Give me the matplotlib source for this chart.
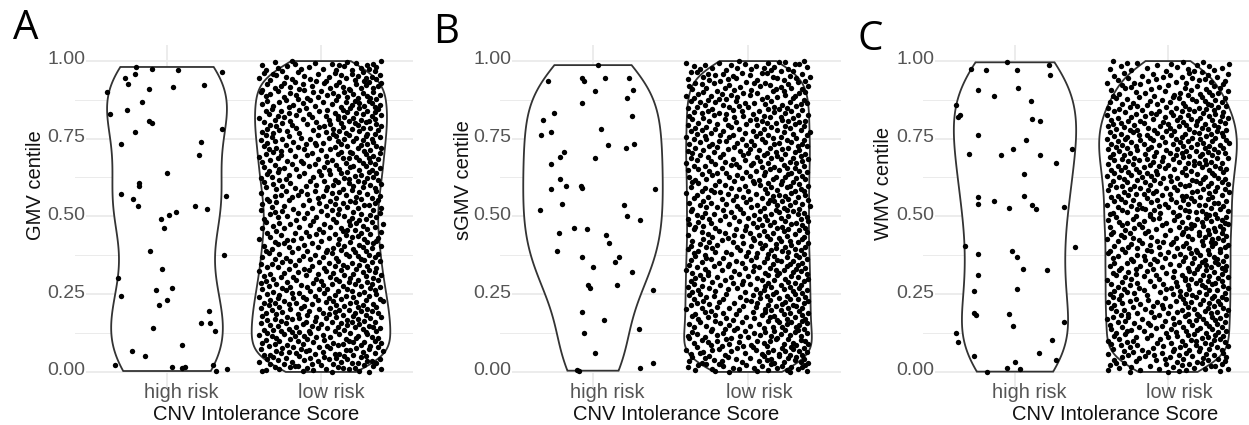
import numpy as np
import matplotlib
matplotlib.use("Agg")
import matplotlib.pyplot as plt
from matplotlib.transforms import ScaledTranslation

plt.rcParams['font.family'] = ['Liberation Sans', 'DejaVu Sans']

W, H, DPI = 1249, 425, 100

categories = ["high risk", "low risk"]
panel_letters = ["A", "B", "C"]
y_titles = ["GMV centile", "sGMV centile", "WMV centile"]
x_title = "CNV Intolerance Score"
y_ticks = [0.0, 0.25, 0.5, 0.75, 1.0]
y_tick_labels = ["0.00", "0.25", "0.50", "0.75", "1.00"]

# ---- high-risk carriers: centile and horizontal jitter (category units) ----
a_high_y = [0.980, 0.974, 0.969, 0.965, 0.958, 0.943, 0.926, 0.923, 0.917, 0.909,
            0.901, 0.867, 0.843, 0.830, 0.806, 0.800, 0.782, 0.772, 0.739, 0.732,
            0.698, 0.639, 0.607, 0.599, 0.572, 0.564, 0.556, 0.534, 0.532, 0.523,
            0.513, 0.503, 0.490, 0.464, 0.390, 0.376, 0.331, 0.302, 0.269, 0.264,
            0.244, 0.232, 0.214, 0.196, 0.158, 0.156, 0.140, 0.133, 0.087, 0.066,
            0.051, 0.022, 0.022, 0.017, 0.015, 0.012, 0.010, 0.003]
a_high_jit = [-0.20, -0.10, 0.07, 0.36, -0.21, -0.27, -0.25, 0.24, 0.04, -0.12,
              -0.39, -0.16, -0.26, -0.37, -0.12, -0.10, 0.36, -0.21, 0.22, -0.30,
              0.21, 0.00, -0.18, -0.18, -0.30, 0.38, -0.22, -0.19, 0.18, 0.26,
              0.06, 0.01, -0.04, -0.02, -0.11, 0.37, -0.03, -0.32, 0.03, -0.07,
              -0.30, 0.00, -0.05, 0.27, 0.22, 0.28, -0.09, 0.31, 0.10, -0.23,
              -0.14, -0.34, 0.30, 0.03, 0.12, 0.10, 0.39, 0.32]

b_high_y = [0.986, 0.946, 0.945, 0.943, 0.936, 0.934, 0.907, 0.904, 0.880, 0.865,
            0.832, 0.824, 0.810, 0.781, 0.772, 0.760, 0.731, 0.730, 0.720, 0.708,
            0.690, 0.688, 0.667, 0.621, 0.599, 0.597, 0.592, 0.588, 0.588, 0.541,
            0.538, 0.521, 0.500, 0.489, 0.462, 0.459, 0.446, 0.439, 0.414, 0.390,
            0.370, 0.368, 0.353, 0.338, 0.322, 0.279, 0.279, 0.271, 0.263, 0.193,
            0.167, 0.137, 0.124, 0.062, 0.028, 0.012, 0.006, 0.004]
b_high_jit = [0.03, 0.23, -0.07, 0.08, -0.06, -0.29, 0.26, 0.01, 0.22, -0.07,
              -0.25, 0.25, -0.32, 0.05, -0.27, -0.335, 0.265, 0.095, 0.21, -0.185,
              -0.21, 0.01, -0.27, -0.21, -0.175, -0.08, -0.07, -0.27, 0.40, -0.20,
              0.20, -0.34, 0.22, 0.30, -0.12, -0.04, -0.22, 0.085, 0.105, -0.235,
              -0.07, 0.17, 0.14, 0.00, 0.25, 0.155, -0.03, -0.02, 0.385, -0.07,
              0.07, 0.295, -0.06, 0.01, 0.385, 0.30, -0.105, -0.09]

c_high_y = [0.995, 0.987, 0.973, 0.971, 0.971, 0.955, 0.914, 0.906, 0.887, 0.870,
            0.859, 0.827, 0.820, 0.814, 0.805, 0.760, 0.744, 0.717, 0.717, 0.701,
            0.698, 0.696, 0.672, 0.635, 0.567, 0.562, 0.550, 0.541, 0.538, 0.530,
            0.528, 0.525, 0.404, 0.402, 0.389, 0.380, 0.370, 0.332, 0.329, 0.311,
            0.266, 0.261, 0.188, 0.185, 0.183, 0.161, 0.147, 0.126, 0.103, 0.097,
            0.060, 0.051, 0.038, 0.033, 0.012, 0.009, 0.001]
c_high_jit = [-0.055, 0.22, -0.29, -0.19, 0.01, 0.23, 0.02, -0.245, -0.14, 0.105,
              -0.385, -0.36, -0.37, 0.11, 0.165, -0.245, 0.07, -0.015, 0.37, -0.30,
              -0.09, 0.165, 0.27, 0.06, 0.06, -0.24, -0.14, -0.24, 0.11, 0.32,
              -0.04, 0.14, -0.33, 0.39, -0.02, -0.24, 0.01, 0.05, 0.21, -0.245,
              0.01, -0.27, -0.27, -0.04, -0.255, 0.32, -0.01, -0.385, 0.245, -0.37,
              0.16, -0.27, 0.27, 0.00, -0.05, 0.03, -0.185]

# ---- low-risk group: horizontal jitter in hundredths of a category ----
low_jitter = [
    7, 31, -12, 25, -38, -36, -5, 18, 3, -27, 39, 14, 22, -9, -30, 11, -20, 34, -15, -17, 28, 0, -33, 8, -24,
    -6, 36, 20, 24, -40, 13, -19, -2, 30, 33, -11, -28, 5, -35, 17, 38, 10, -23, -7, 26, -31, 2, 15, -14, 29,
    21, -37, -33, 9, 12, -4, 35, -26, -16, -21, 1, 27, -10, 40, -29, 16, 19, -8, 31, -39, -13, 6, -25, 23, 37,
    -18, -1, 32, -34, 4, 11, -22, 26, -30, 14, -12, -38, 39, 8, 21, -5, 28, -27, -15, 35, 18, -36, 2, -9, -20,
    16, 23, -29, 37, -3, 6, 33, -17, -32, 24, -11, 1, -40, -24, 30, 12, -7, 19, -35, 29, -14, -19, 9, 36, -26,
    -8, 15, -37, -31, 27, -21, 4, 38, -2, 11, 34, -16, 22, -28, -6, 31, -33, 17, 0, -12, 25, -39, -23, 13, 20,
    35, -10, 7, 28, -26, -4, 17, -35, 24, -19, -30, 3, -14, 32, 39, -22, 10, -3, -38, 21, -9, 14, 29, -29, 5,
    -15, -36, 22, 1, 37, -25, 9, 26, 33, -8, 12, -32, 18, -20, -1, 30, -39, 6, -13, 24, 36, -27, -11, 15, -34,
    27, 10, -21, -6, 34, -30, 19, -16, -37, 3, 23, 40, -24, 8, -2, -33, 29, 13, -10, 38, -18, -28, 5, 21, -40,
    -12, 31, 16, -4, -27, 9, -35, 25, 36, 2, -19, -14, 28, -31, 11, 20, -7, 35, -23, -38, 17, 4, -1, 32, -25,
    38, -20, -9, 14, 26, -34, 1, -13, 22, 33, -29, 7, -39, -5, 18, 30, -22, 12, 0, -36, 24, 37, -16, -31, 10,
    -3, 19, 34, -26, -18, 6, 29, -37, 15, -10, 39, 21, -33, -2, 8, -24, 35, 27, -15, 3, -40, 13, 31, -8, -21,
    23, -11, 2, 36, -28, -35, 17, 9, -6, 30, -17, 25, 14, -32, -39, 20, 5, -25, 33, -1, 11, 38, -20, -14, 28,
    -30, 26, -7, 10, -23, 35, 1, -38, 18, 24, -12, -4, 31, -27, 16, 37, -34, 7, -19, 22, 3, -9, -36, 29, 13,
    4, -32, 21, 33, -15, 8, -21, 27, -2, 39, -37, 15, 25, -11, -28, 11, 34, -6, -24, 19, 30, -30, 0, 36, -18,
    -22, 12, -40, 28, 5, -13, 37, 20, -33, -8, 24, 16, -26, 32, -3, 9, -35, -17, 26, 1, 39, -10, 14, -29, 22,
    17, -1, 30, -24, -38, 13, 35, -14, 6, 27, -31, 19, -7, 40, 2, -20, -27, 23, 10, -36, 33, -5, 18, 25, -16,
    -37, 29, 8, -11, 20, 36, -28, -3, 15, -22, 32, 4, -33, 11, 26, -15, 38, -9, -30, 21, 0, -25, 34, 7, -39,
    12, -18, 39, 24, -6, -32, 17, 3, -24, 31, -12, 28, -38, 9, 35, 14, -1, -29, 22, -34, 6, 19, -21, 37, -8,
    26, -35, -2, 33, 10, -19, 23, -30, 38, 1, -15, 16, -26, 30, -9, 7, -39, 25, 12, -4, 36, -23, -13, 20, 3,
    -29, 14, 35, -17, 4, -36, 27, 21, -10, -25, 32, 8, -3, 39, -31, 18, -20, 11, 28, -37, 2, -7, 24, -27, 37,
    9, -23, 18, -39, 30, 15, -5, 34, -32, 22, -14, 0, 26, -21, -35, 6, 36, -11, 13, 31, -28, 17, -1, -34, 25,
    33, 5, -27, 12, -16, 38, -24, 19, 2, -37, 29, -8, 21, -30, 10, 35, -19, -4, 27, -12, 16, -38, 32, 4, -22,
    -13, 25, -33, 7, 37, -2, 14, -28, 31, 18, -40, 23, -17, 3, 34, -9, -26, 29, -36, 11, 20, -6, 38, -31, 13,
    19, -26, 28, 0, -20, 32, -11, 6, -34, 24, 39, -29, 9, -15, 17, 36, -37, -3, 26, -23, 13, 30, -10, 1, -35,
    -4, 34, -18, 21, -30, 11, 27, -39, 15, -7, 33, -25, 5, 23, -13, -32, 38, 10, -21, 29, -2, 18, -36, 35, 8,
    30, -14, -31, 16, 3, -38, 25, 12, -22, 37, -5, -27, 20, 8, -35, 32, -16, 27, -1, 14, -29, 39, 2, -19, 24,
    -33, 6, 36, -9, 22, -25, 13, 29, -37, -3, 18, 31, -20, 5, -30, 26, -12, 35, 11, -40, 21, -6, 15, -24, 33,
    11, -28, 3, 39, -16, 27, -8, -34, 23, 9, -21, 35, 17, -36, -1, 30, -26, 14, 4, -14, 37, -32, 25, -10, 19,
    -21, 35, 13, -31, 28, -4, 20, 38, -18, -38, 7, 25, -12, 33, 1, -27, 16, -35, 31, 22, -7, 10, -23, 36, -15,
    24, -9, 32, -24, -2, 17, -36, 11, 30, -16, 4, 38, -33, 21, -20, 8, 27, -5, -39, 15, 34, -28, 0, 19, -11,
    -38, 18, -14, 26, 34, -30, 6, -20, 14, 37, -26, -6, 29, 10, -35, 23, -12, 39, 2, -24, 31, -17, 12, -3, 28,
    3, -33, 22, -7, 36, -19, 29, -40, 16, 5, -23, 33, -11, 24, -29, 13, 38, -2, -31, 20, 9, -37, 27, -15, 35,
    -25, 20, 10, -36, 31, -13, 1, 26, -28, 36, -8, 15, -22, 30, 12, -38, 7, -17, 34, 23, -4, -30, 17, 39, -19,
    15, -27, 37, -1, -32, 22, 9, -16, 28, -39, 35, 4, -10, 19, -23, 32, -6, 25, -34, 13, 38, -21, 6, -12, 27,
]

# ---- low-risk group: sorted centiles, in thousandths ----
a_low_y = [
    0, 1, 2, 3, 4, 5, 6, 8, 9, 10, 11, 12, 13, 14, 15, 16, 17, 18, 19, 20, 21, 22, 24, 25, 26, 27, 28, 29, 30, 31, 32, 33, 34, 35, 36, 37, 39, 40, 41, 42, 43, 44, 45, 46, 47, 48, 49,
    50, 51, 52, 53, 55, 56, 57, 58, 59, 60, 61, 62, 63, 64, 65, 66, 67, 68, 69, 70, 72, 73, 74, 75, 76, 77, 78, 79, 80, 81, 82, 83, 84, 85, 86, 87, 89, 90, 91, 92, 93, 94, 95, 96, 97, 98, 99,
    100, 101, 102, 104, 105, 106, 107, 108, 109, 110, 111, 112, 113, 114, 115, 116, 117, 118, 120, 121, 122, 123, 124, 125, 126, 127, 128, 129, 130, 131, 132, 133, 134, 135, 136, 138, 139, 140, 141, 142, 143, 144, 145, 146, 147, 148, 149,
    150, 151, 153, 154, 155, 156, 157, 158, 159, 160, 161, 162, 163, 164, 165, 167, 168, 169, 170, 171, 172, 173, 174, 175, 176, 177, 178, 180, 181, 182, 183, 184, 185, 186, 187, 188, 189, 190, 191, 192, 194, 195, 196, 197, 198, 199,
    200, 201, 202, 203, 205, 206, 207, 208, 209, 210, 211, 212, 214, 215, 216, 217, 218, 219, 220, 221, 222, 223, 224, 225, 227, 228, 229, 230, 231, 232, 233, 235, 236, 237, 238, 239, 240, 241, 242, 243, 244, 245, 246, 248, 249,
    250, 252, 253, 254, 255, 256, 257, 259, 260, 261, 262, 263, 265, 266, 267, 268, 269, 270, 272, 273, 274, 275, 276, 277, 278, 280, 281, 282, 283, 284, 285, 287, 288, 289, 290, 291, 292, 293, 295, 296, 297, 298, 299,
    300, 301, 303, 304, 305, 306, 308, 309, 310, 311, 312, 314, 315, 316, 317, 319, 320, 321, 322, 323, 325, 326, 327, 328, 330, 331, 332, 333, 334, 336, 337, 338, 339, 340, 342, 343, 344, 345, 347, 348, 349,
    350, 352, 353, 354, 355, 357, 358, 359, 360, 362, 363, 364, 365, 367, 368, 369, 370, 372, 373, 374, 375, 377, 378, 379, 380, 382, 383, 384, 385, 387, 388, 389, 390, 392, 393, 394, 395, 397, 398, 399,
    400, 401, 402, 404, 405, 406, 408, 409, 410, 412, 413, 414, 415, 417, 418, 419, 421, 422, 423, 425, 426, 427, 428, 430, 431, 432, 434, 435, 436, 438, 439, 440, 442, 443, 444, 445, 447, 448, 449,
    450, 451, 453, 454, 455, 457, 458, 459, 461, 462, 463, 465, 466, 467, 469, 470, 471, 473, 474, 475, 477, 478, 479, 481, 482, 483, 485, 486, 487, 489, 490, 491, 493, 494, 495, 497, 498, 499,
    500, 502, 503, 504, 506, 507, 508, 510, 511, 512, 514, 515, 516, 518, 519, 520, 522, 523, 524, 526, 527, 528, 530, 531, 532, 534, 535, 536, 538, 539, 540, 542, 543, 544, 546, 547, 548, 549,
    550, 551, 552, 554, 555, 556, 558, 559, 560, 561, 563, 564, 565, 567, 568, 569, 570, 572, 573, 574, 576, 577, 578, 580, 581, 582, 583, 585, 586, 587, 589, 590, 591, 593, 594, 595, 596, 598, 599,
    600, 601, 602, 604, 605, 606, 607, 609, 610, 611, 612, 613, 615, 616, 617, 618, 620, 621, 622, 623, 624, 626, 627, 628, 629, 631, 632, 633, 634, 635, 637, 638, 639, 640, 642, 643, 644, 645, 646, 648, 649,
    650, 651, 652, 653, 655, 656, 657, 658, 659, 661, 662, 663, 664, 665, 667, 668, 669, 670, 671, 673, 674, 675, 676, 677, 679, 680, 681, 682, 683, 685, 686, 687, 688, 689, 691, 692, 693, 694, 695, 697, 698, 699,
    700, 701, 702, 704, 705, 706, 707, 708, 709, 711, 712, 713, 714, 715, 716, 718, 719, 720, 721, 722, 723, 725, 726, 727, 728, 729, 730, 732, 733, 734, 735, 736, 737, 739, 740, 741, 742, 743, 744, 746, 747, 748, 749,
    750, 751, 752, 753, 755, 756, 757, 758, 759, 760, 761, 763, 764, 765, 766, 767, 768, 769, 771, 772, 773, 774, 775, 776, 777, 779, 780, 781, 782, 783, 784, 785, 787, 788, 789, 790, 791, 792, 793, 795, 796, 797, 798, 799,
    800, 801, 802, 803, 804, 806, 807, 808, 809, 810, 811, 812, 813, 814, 816, 817, 818, 819, 820, 821, 822, 823, 824, 826, 827, 828, 829, 830, 831, 832, 833, 834, 836, 837, 838, 839, 840, 841, 842, 843, 844, 846, 847, 848, 849,
    850, 851, 852, 854, 855, 856, 857, 858, 859, 860, 862, 863, 864, 865, 866, 867, 868, 870, 871, 872, 873, 874, 875, 876, 878, 879, 880, 881, 882, 883, 884, 886, 887, 888, 889, 890, 891, 892, 894, 895, 896, 897, 898, 899,
    900, 901, 903, 904, 905, 906, 907, 908, 910, 911, 912, 913, 914, 915, 917, 918, 919, 920, 921, 922, 924, 925, 926, 927, 928, 929, 931, 932, 933, 934, 935, 936, 938, 939, 940, 941, 942, 943, 945, 946, 947, 948, 949,
    950, 951, 953, 954, 955, 957, 958, 959, 961, 962, 963, 965, 966, 967, 969, 970, 971, 973, 974, 975, 977, 978, 979, 981, 982, 983, 985, 986, 987, 989, 990, 991, 993, 994, 995, 997, 998, 999,
]

b_low_y = [
    0, 1, 2, 3, 4, 5, 6, 7, 8, 10, 11, 12, 13, 14, 15, 16, 17, 18, 19, 20, 21, 22, 23, 24, 25, 27, 28, 29, 30, 31, 32, 33, 34, 35, 36, 37, 38, 39, 40, 42, 43, 44, 45, 46, 47, 48, 49,
    50, 51, 52, 54, 55, 56, 57, 58, 59, 60, 62, 63, 64, 65, 66, 67, 68, 69, 70, 71, 72, 73, 75, 76, 77, 78, 79, 80, 81, 82, 83, 84, 85, 87, 88, 89, 90, 91, 92, 93, 94, 96, 97, 98, 99,
    100, 101, 103, 104, 105, 106, 107, 108, 109, 110, 112, 113, 114, 115, 116, 117, 118, 119, 120, 121, 122, 124, 125, 126, 127, 128, 129, 130, 132, 133, 134, 135, 136, 137, 138, 139, 141, 142, 143, 144, 145, 146, 148, 149,
    150, 152, 153, 154, 155, 156, 157, 159, 160, 161, 162, 163, 164, 165, 167, 168, 169, 170, 171, 172, 174, 175, 176, 177, 178, 179, 180, 182, 183, 184, 185, 186, 187, 189, 190, 191, 192, 193, 194, 195, 197, 198, 199,
    200, 201, 202, 204, 205, 206, 207, 208, 209, 211, 212, 213, 214, 215, 216, 218, 219, 220, 221, 222, 223, 224, 226, 227, 228, 229, 230, 231, 233, 234, 235, 236, 237, 238, 240, 241, 242, 243, 244, 245, 247, 248, 249,
    250, 251, 252, 253, 255, 256, 257, 258, 259, 260, 262, 263, 264, 265, 266, 267, 269, 270, 271, 272, 273, 274, 275, 277, 278, 279, 280, 281, 282, 284, 285, 286, 287, 288, 289, 291, 292, 293, 294, 295, 296, 298, 299,
    300, 302, 303, 304, 305, 306, 307, 308, 310, 311, 312, 313, 314, 315, 317, 318, 319, 320, 321, 323, 324, 325, 326, 327, 328, 329, 331, 332, 333, 334, 335, 336, 338, 339, 340, 341, 342, 343, 345, 346, 347, 348, 349,
    350, 351, 353, 354, 355, 356, 357, 359, 360, 361, 362, 363, 365, 366, 367, 368, 369, 370, 372, 373, 374, 375, 376, 378, 379, 380, 381, 382, 384, 385, 386, 387, 388, 389, 391, 392, 393, 394, 395, 397, 398, 399,
    400, 401, 402, 403, 405, 406, 407, 408, 409, 411, 412, 413, 414, 415, 417, 418, 419, 420, 421, 422, 424, 425, 426, 427, 428, 430, 431, 432, 433, 434, 436, 437, 438, 439, 440, 441, 443, 444, 445, 446, 447, 449,
    450, 452, 453, 454, 455, 456, 458, 459, 460, 461, 462, 464, 465, 466, 467, 468, 469, 471, 472, 473, 474, 475, 477, 478, 479, 480, 481, 483, 484, 485, 486, 487, 488, 490, 491, 492, 493, 494, 496, 497, 498, 499,
    500, 501, 502, 504, 505, 506, 507, 508, 510, 511, 512, 513, 514, 516, 517, 518, 519, 520, 521, 523, 524, 525, 526, 527, 529, 530, 531, 532, 533, 535, 536, 537, 538, 539, 540, 542, 543, 544, 545, 546, 548, 549,
    550, 551, 553, 554, 555, 556, 557, 559, 560, 561, 562, 563, 564, 566, 567, 568, 569, 570, 572, 573, 574, 575, 576, 578, 579, 580, 581, 582, 583, 585, 586, 587, 588, 589, 591, 592, 593, 594, 595, 597, 598, 599,
    600, 601, 602, 603, 605, 606, 607, 608, 609, 611, 612, 613, 614, 615, 617, 618, 619, 620, 621, 622, 624, 625, 626, 627, 628, 630, 631, 632, 633, 634, 636, 637, 638, 639, 640, 641, 643, 644, 645, 646, 647, 649,
    650, 651, 652, 654, 655, 656, 657, 658, 659, 661, 662, 663, 664, 665, 666, 668, 669, 670, 671, 672, 673, 675, 676, 677, 678, 679, 680, 682, 683, 684, 685, 686, 687, 689, 690, 691, 692, 693, 694, 696, 697, 698, 699,
    700, 701, 703, 704, 705, 706, 707, 708, 710, 711, 712, 713, 714, 715, 717, 718, 719, 720, 721, 722, 724, 725, 726, 727, 728, 729, 731, 732, 733, 734, 735, 736, 738, 739, 740, 741, 742, 743, 745, 746, 747, 748, 749,
    750, 752, 753, 754, 755, 756, 758, 759, 760, 761, 762, 763, 765, 766, 767, 768, 769, 771, 772, 773, 774, 775, 777, 778, 779, 780, 781, 782, 784, 785, 786, 787, 788, 790, 791, 792, 793, 794, 796, 797, 798, 799,
    800, 801, 802, 804, 805, 806, 807, 808, 810, 811, 812, 813, 814, 816, 817, 818, 819, 820, 821, 823, 824, 825, 826, 827, 829, 830, 831, 832, 833, 835, 836, 837, 838, 839, 840, 842, 843, 844, 845, 846, 848, 849,
    850, 851, 852, 853, 855, 856, 857, 858, 859, 861, 862, 863, 864, 865, 867, 868, 869, 870, 871, 872, 874, 875, 876, 877, 878, 880, 881, 882, 883, 884, 886, 887, 888, 889, 890, 891, 893, 894, 895, 896, 897, 899,
    900, 902, 903, 904, 905, 907, 908, 909, 910, 912, 913, 914, 915, 917, 918, 919, 920, 922, 923, 924, 925, 927, 928, 929, 930, 932, 933, 934, 935, 937, 938, 939, 940, 942, 943, 944, 945, 947, 948, 949,
    950, 952, 953, 954, 956, 957, 958, 960, 961, 962, 964, 965, 966, 968, 969, 970, 972, 973, 974, 976, 977, 978, 980, 981, 982, 984, 985, 986, 988, 989, 990, 992, 993, 994, 996, 997, 998, 999,
]

c_low_y = [
    0, 1, 2, 4, 5, 6, 7, 9, 10, 11, 13, 14, 15, 16, 18, 19, 20, 21, 23, 24, 25, 26, 28, 29, 30, 32, 33, 34, 35, 37, 38, 39, 40, 42, 43, 44, 45, 47, 48, 49,
    50, 51, 53, 54, 55, 56, 57, 59, 60, 61, 62, 63, 65, 66, 67, 68, 69, 70, 72, 73, 74, 75, 76, 78, 79, 80, 81, 82, 84, 85, 86, 87, 88, 89, 91, 92, 93, 94, 95, 97, 98, 99,
    100, 101, 102, 103, 105, 106, 107, 108, 109, 111, 112, 113, 114, 115, 117, 118, 119, 120, 121, 122, 124, 125, 126, 127, 128, 130, 131, 132, 133, 134, 136, 137, 138, 139, 140, 141, 143, 144, 145, 146, 147, 149,
    150, 151, 152, 154, 155, 156, 157, 158, 159, 161, 162, 163, 164, 165, 166, 168, 169, 170, 171, 172, 173, 175, 176, 177, 178, 179, 180, 182, 183, 184, 185, 186, 187, 189, 190, 191, 192, 193, 194, 196, 197, 198, 199,
    200, 201, 203, 204, 205, 206, 207, 208, 210, 211, 212, 213, 214, 215, 217, 218, 219, 220, 221, 222, 224, 225, 226, 227, 228, 229, 231, 232, 233, 234, 235, 236, 238, 239, 240, 241, 242, 243, 245, 246, 247, 248, 249,
    250, 251, 252, 254, 255, 256, 257, 258, 259, 261, 262, 263, 264, 265, 266, 268, 269, 270, 271, 272, 273, 275, 276, 277, 278, 279, 280, 282, 283, 284, 285, 286, 287, 289, 290, 291, 292, 293, 294, 296, 297, 298, 299,
    300, 302, 303, 304, 305, 306, 307, 309, 310, 311, 312, 313, 314, 316, 317, 318, 319, 320, 321, 323, 324, 325, 326, 327, 328, 330, 331, 332, 333, 334, 335, 337, 338, 339, 340, 341, 342, 344, 345, 346, 347, 348, 349,
    350, 351, 352, 353, 355, 356, 357, 358, 359, 360, 362, 363, 364, 365, 366, 367, 369, 370, 371, 372, 373, 374, 376, 377, 378, 379, 380, 381, 383, 384, 385, 386, 387, 388, 390, 391, 392, 393, 394, 395, 397, 398, 399,
    400, 401, 402, 404, 405, 406, 407, 408, 409, 411, 412, 413, 414, 415, 416, 418, 419, 420, 421, 422, 423, 425, 426, 427, 428, 429, 430, 432, 433, 434, 435, 436, 437, 439, 440, 441, 442, 443, 444, 446, 447, 448, 449,
    450, 451, 453, 454, 455, 456, 457, 458, 459, 461, 462, 463, 464, 465, 466, 467, 469, 470, 471, 472, 473, 474, 475, 477, 478, 479, 480, 481, 482, 483, 485, 486, 487, 488, 489, 490, 491, 493, 494, 495, 496, 497, 498, 499,
    500, 501, 502, 503, 505, 506, 507, 508, 509, 510, 511, 513, 514, 515, 516, 517, 518, 519, 521, 522, 523, 524, 525, 526, 527, 529, 530, 531, 532, 533, 534, 535, 537, 538, 539, 540, 541, 542, 543, 545, 546, 547, 548, 549,
    550, 552, 553, 554, 555, 556, 557, 558, 560, 561, 562, 563, 564, 565, 566, 568, 569, 570, 571, 572, 573, 574, 576, 577, 578, 579, 580, 581, 582, 584, 585, 586, 587, 588, 589, 590, 592, 593, 594, 595, 596, 597, 598, 599,
    600, 601, 602, 603, 604, 606, 607, 608, 609, 610, 611, 612, 613, 614, 616, 617, 618, 619, 620, 621, 622, 623, 624, 626, 627, 628, 629, 630, 631, 632, 633, 634, 636, 637, 638, 639, 640, 641, 642, 643, 644, 646, 647, 648, 649,
    650, 651, 652, 653, 654, 655, 656, 658, 659, 660, 661, 662, 663, 664, 665, 666, 667, 668, 669, 670, 671, 672, 674, 675, 676, 677, 678, 679, 680, 681, 682, 683, 684, 685, 686, 687, 688, 690, 691, 692, 693, 694, 695, 696, 697, 698, 699,
    700, 701, 702, 703, 704, 705, 706, 707, 708, 709, 710, 711, 713, 714, 715, 716, 717, 718, 719, 720, 721, 722, 723, 724, 725, 726, 727, 728, 729, 730, 731, 732, 733, 734, 735, 736, 738, 739, 740, 741, 742, 743, 744, 745, 746, 747, 748, 749,
    750, 751, 752, 753, 754, 755, 756, 757, 758, 759, 760, 762, 763, 764, 765, 766, 767, 768, 769, 770, 771, 772, 773, 774, 775, 776, 777, 778, 779, 780, 781, 782, 783, 784, 785, 787, 788, 789, 790, 791, 792, 793, 794, 795, 796, 797, 798, 799,
    800, 801, 803, 804, 805, 806, 807, 808, 809, 810, 811, 813, 814, 815, 816, 817, 818, 819, 820, 821, 823, 824, 825, 826, 827, 828, 829, 830, 831, 833, 834, 835, 836, 837, 838, 839, 840, 841, 843, 844, 845, 846, 847, 848, 849,
    850, 851, 852, 854, 855, 856, 857, 859, 860, 861, 862, 864, 865, 866, 867, 869, 870, 871, 872, 874, 875, 876, 877, 879, 880, 881, 882, 884, 885, 886, 887, 889, 890, 891, 892, 894, 895, 896, 897, 899,
    900, 902, 903, 905, 906, 908, 909, 911, 912, 914, 915, 917, 918, 920, 921, 923, 924, 926, 927, 929, 930, 932, 933, 935, 936, 938, 939, 941, 942, 944, 945, 947, 948, 949,
    950, 952, 954, 955, 957, 959, 961, 962, 964, 966, 968, 969, 971, 973, 975, 976, 978, 980, 982, 983, 985, 987, 989, 990, 992, 994, 996, 997, 999,
]

panel_data = [
    (a_high_y, a_high_jit, a_low_y),
    (b_high_y, b_high_jit, b_low_y),
    (c_high_y, c_high_jit, c_low_y),
]

# ---- layout (pixels) ----
panel_left_px = [74.6, 500.0, 923.2]
panel_unit_px = [154.0, 155.0, 153.0]
panel_top_px, panel_bottom_px = 45.2, 387.5
letter_pos_px = [(13.3, 39.0), (433.0, 43.3), (857.5, 49.5)]
ytitle_pos_px = [(41.0, 240.0), (468.5, 240.0), (889.0, 240.0)]
xtitle_pos_px = [(153.3, 419.5), (573.3, 419.5), (1011.7, 419.5)]

VIOLIN_HALF = 0.45            # half of the default violin width 0.9
BW_ADJUST = [1.0, 0.7]        # bandwidth multiplier per category
POINT_SIZE = 15
GRID_COL = "#EBEBEB"
TICK_COL = "#555555"
TITLE_COL = "#111111"


def bw_nrd0(v):
    v = np.asarray(v, float)
    sd = v.std(ddof=1)
    q75, q25 = np.percentile(v, [75, 25])
    lo = min(sd, (q75 - q25) / 1.34)
    return 0.9 * lo * len(v) ** -0.2


def violin_density(v, adjust, n=512):
    v = np.asarray(v, float)
    bw = bw_nrd0(v) * adjust
    grid = np.linspace(v.min(), v.max(), n)
    z = (grid[:, None] - v[None, :]) / bw
    dens = np.exp(-0.5 * z ** 2).sum(axis=1) / (len(v) * bw * np.sqrt(2 * np.pi))
    return grid, dens


fig = plt.figure(figsize=(W / DPI, H / DPI), dpi=DPI)
fig.patch.set_facecolor("white")

jit_all = np.asarray(low_jitter, float) / 100.0
# each panel walks the jitter sequence in its own order
jitter_orders = [jit_all, jit_all[::-1], np.roll(jit_all, 430)]

for i, (hy, hj, ly) in enumerate(panel_data):
    left = panel_left_px[i]
    unit = panel_unit_px[i]
    ax = fig.add_axes([left / W, 1 - panel_bottom_px / H,
                       2.2 * unit / W, (panel_bottom_px - panel_top_px) / H])
    ax.set_xlim(0.4, 2.6)
    ax.set_ylim(-0.05, 1.05)
    for s in ax.spines.values():
        s.set_visible(False)
    ax.set_axisbelow(True)

    ax.set_yticks(y_ticks)
    ax.set_yticklabels(y_tick_labels)
    ax.set_yticks([0.125, 0.375, 0.625, 0.875], minor=True)
    ax.set_xticks([1, 2])
    ax.set_xticklabels(categories)
    ax.grid(which="major", color=GRID_COL, linewidth=1.3)
    ax.grid(which="minor", axis="y", color=GRID_COL, linewidth=0.7)
    ax.tick_params(axis="both", which="both", length=0)
    ax.tick_params(axis="y", pad=-8, labelsize=14, labelcolor=TICK_COL)
    ax.tick_params(axis="x", pad=7.2, labelsize=14.3, labelcolor=TICK_COL)

    for lbl in ax.get_yticklabels():
        lbl.set_transform(lbl.get_transform() +
                          ScaledTranslation(0, 3 / DPI, fig.dpi_scale_trans))
        lbl.set_bbox(dict(facecolor="white", edgecolor="none", pad=0.3))
    for lbl in ax.get_xticklabels():
        lbl.set_ha("left")
        lbl.set_va("baseline")
        lbl.set_transform(lbl.get_transform() +
                          ScaledTranslation(-22.5 / DPI, 0, fig.dpi_scale_trans))

    low_y = np.asarray(ly, float) / 1000.0
    low_j = jitter_orders[i][:len(low_y)]
    groups = [(1, np.asarray(hy, float), np.asarray(hj, float)),
              (2, low_y, low_j)]
    curves = [violin_density(g[1], BW_ADJUST[k]) for k, g in enumerate(groups)]
    dmax = max(d.max() for _, d in curves)

    for (pos, yv, jv), (grid, dens) in zip(groups, curves):
        half = VIOLIN_HALF * dens / dmax
        xs = np.concatenate([pos - half, (pos + half)[::-1]])
        ys = np.concatenate([grid, grid[::-1]])
        ax.fill(xs, ys, facecolor="white", edgecolor="#333333",
                linewidth=1.3, zorder=2)
        ax.scatter(pos + jv, yv, s=POINT_SIZE, c="black", linewidths=0, zorder=3)

    lx, lyp = letter_pos_px[i]
    fig.text(lx / W, 1 - lyp / H, panel_letters[i], fontsize=29,
             family=["Open Sans", "DejaVu Sans"], color="black",
             ha="left", va="baseline")
    tx, ty = ytitle_pos_px[i]
    fig.text(tx / W, 1 - ty / H, y_titles[i], rotation=90,
             rotation_mode="anchor", ha="left", va="baseline",
             fontsize=14.5, color=TITLE_COL)
    xx, xy = xtitle_pos_px[i]
    fig.text(xx / W, 1 - xy / H, x_title, ha="left", va="baseline",
             fontsize=14.5, color=TITLE_COL)

fig.savefig("out.png", dpi=DPI, facecolor="white")
